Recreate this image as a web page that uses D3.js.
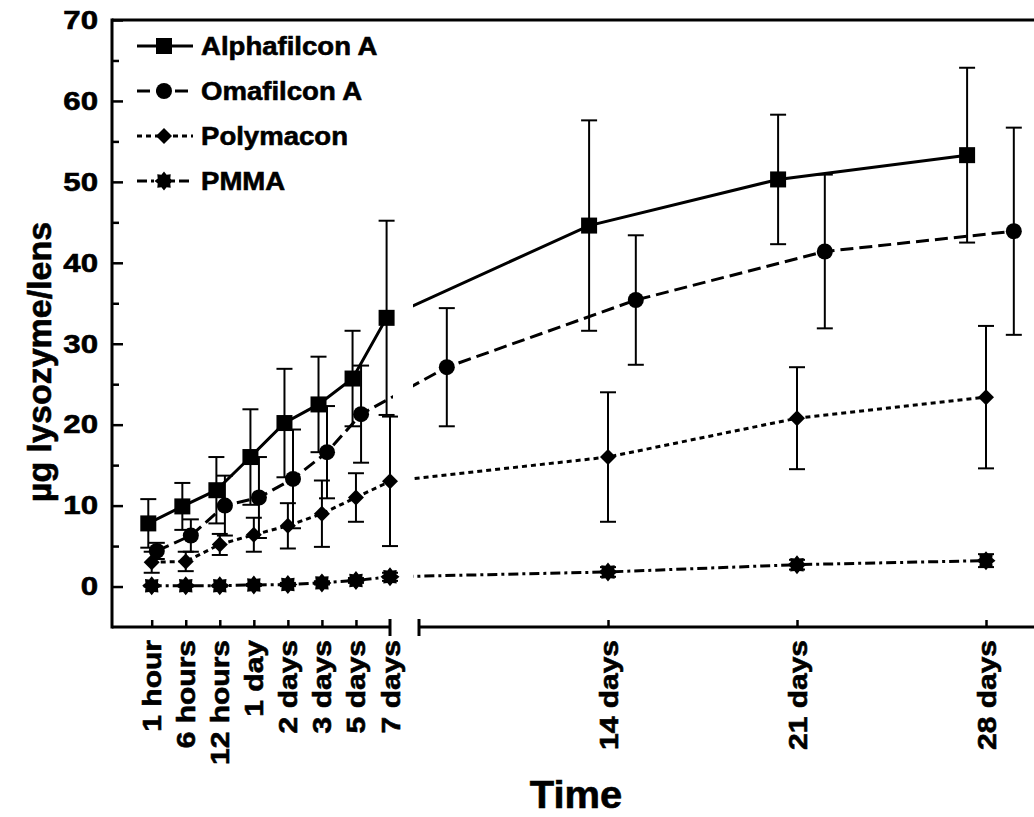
<!DOCTYPE html>
<html>
<head>
<meta charset="utf-8">
<script src="https://cdn.jsdelivr.net/npm/d3@7"></script>
<style>
  body { margin: 0; background: #fff; }
  text { font-family: "Liberation Sans", Arial, sans-serif; font-weight: bold; fill: #000;
         stroke: #000; stroke-width: 0.6px; }
  .axis path.domain { display: none; }
  .axis line { stroke: #000; stroke-width: 2.5; }
</style>
</head>
<body>
<div class="container"></div>
<script>
// categories
var earlyLabels = ['1 hour', '6 hours', '12 hours', '1 day', '2 days', '3 days', '5 days', '7 days'];
var lateDays = [14, 21, 28];
var lateLabels = ['14 days', '21 days', '28 days'];
var seriesNames = ['Alphafilcon A', 'Omafilcon A', 'Polymacon', 'PMMA'];
var yTicks = [0, 10, 20, 30, 40, 50, 60, 70];

// values (µg/lens), 8 early points then 14, 21, 28 days
var alphafilcon   = [7.8, 9.9, 11.9, 16.0, 20.2, 22.5, 25.7, 33.2, 44.6, 50.3, 53.3];
var alphafilconSd = [3.0, 2.9, 4.1, 5.9, 6.7, 5.9, 5.9, 12.0, 13.0, 8.0, 10.8];
var omafilcon     = [4.4, 6.3, 10.0, 11.0, 13.3, 16.6, 21.3, 27.1, 35.4, 41.4, 43.9];
var omafilconSd   = [1.0, 2.0, 3.7, 5.0, 6.1, 5.7, 6.0, 7.3, 8.0, 9.5, 12.8];
var polymacon     = [3.0, 3.1, 5.2, 6.4, 7.5, 9.0, 11.0, 13.0, 16.0, 20.8, 23.4];
var polymaconSd   = [1.3, 1.2, 1.3, 2.1, 2.8, 4.1, 3.0, 8.0, 8.0, 6.3, 8.8];
var pmma          = [0.1, 0.1, 0.1, 0.2, 0.25, 0.45, 0.75, 1.2, 1.8, 2.7, 3.2];
var pmmaSd        = [0.1, 0.1, 0.1, 0.1, 0.2, 0.2, 0.3, 0.5, 0.6, 0.6, 0.8];

var W = 1034, H = 817;
var axisX = 112, topY = 20, baseY = 627;
var leftEnd = 391, rightStart = 419;
var stretch = 1.2;   // the source font runs wider than Liberation Sans

var translate = (x, y) => `translate(${ x },${ y })`;

var xEarly = d3.scaleLinear().domain([0, 7]).range([151.7, 390]);
var xLate = d3.scaleLinear().domain([7, 28]).range([rightStart, 986]);
var y = d3.scaleLinear().domain([-5, 70]).range([baseY, topY]);

// per-series horizontal shift: early (category steps), late (days)
var styles = [
    {values: alphafilcon, sd: alphafilconSd, dash: null, marker: 'square', early: -0.1, late: -0.7},
    {values: omafilcon, sd: omafilconSd, dash: '13,6', marker: 'circle', early: 0.15, late: 1.03},
    {values: polymacon, sd: polymaconSd, dash: '5,4', marker: 'diamond', early: 0, late: 0},
    {values: pmma, sd: pmmaSd, dash: '10,4,3,4', marker: 'star', early: 0, late: 0}
];

var xOf = (s, i) => {
    if (i < earlyLabels.length) {
        var px = xEarly(i + s.early);
        if (px <= leftEnd + 1) return px;
        return xLate(7 + s.late);   // falls into the break: shown on the next segment
    }
    return xLate(lateDays[i - earlyLabels.length] + s.late);
};

var starPath = (() => {
    var pts = [], n = 8, ro = 9.5, ri = 6.8;
    for (var k = 0; k < n * 2; k++) {
        var r = k % 2 ? ri : ro, a = Math.PI * k / n;
        pts.push([r * Math.sin(a), -r * Math.cos(a)]);
    }
    return 'M' + pts.join('L') + 'Z';
})();

var drawMarker = (g, type, cx, cy) => {
    if (type === 'square') {
        g.append('rect').attr('x', cx - 8).attr('y', cy - 8).attr('width', 16).attr('height', 16);
    } else if (type === 'circle') {
        g.append('circle').attr('cx', cx).attr('cy', cy).attr('r', 8);
    } else if (type === 'diamond') {
        g.append('path').attr('d', `M${cx},${cy - 8}L${cx + 8},${cy}L${cx},${cy + 8}L${cx - 8},${cy}Z`);
    } else {
        g.append('path').attr('transform', translate(cx, cy)).attr('d', starPath);
    }
};

var svg = d3.select('.container').append('svg')
    .attr('width', W)
    .attr('height', H);

svg.append('defs').append('clipPath').attr('id', 'plotClip')
    .selectAll('rect')
    .data([[axisX, leftEnd + 2], [rightStart - 6, W]])
    .enter().append('rect')
    .attr('x', d => d[0]).attr('y', 0)
    .attr('width', d => d[1] - d[0]).attr('height', H);

// frame lines
svg.append('line').attr('x1', axisX).attr('x2', axisX).attr('y1', topY - 1.5).attr('y2', baseY + 1.5)
    .attr('stroke', '#000').attr('stroke-width', 3);
svg.append('line').attr('x1', axisX).attr('x2', W).attr('y1', topY).attr('y2', topY)
    .attr('stroke', '#000').attr('stroke-width', 3);
svg.append('line').attr('x1', axisX).attr('x2', leftEnd).attr('y1', baseY).attr('y2', baseY)
    .attr('stroke', '#000').attr('stroke-width', 3);
svg.append('line').attr('x1', rightStart).attr('x2', W).attr('y1', baseY).attr('y2', baseY)
    .attr('stroke', '#000').attr('stroke-width', 3);
[leftEnd - 1, rightStart].forEach(bx => {
    svg.append('line').attr('x1', bx).attr('x2', bx).attr('y1', baseY - 8).attr('y2', baseY + 9)
        .attr('stroke', '#000').attr('stroke-width', 3);
});

// y axis
var yAxis = svg.append('g').classed('axis', true)
    .attr('transform', translate(axisX, 0))
    .call(d3.axisLeft(y).tickValues(yTicks).tickSize(-11).tickPadding(14).tickSizeOuter(0));
yAxis.selectAll('text')
    .attr('x', -14 / stretch)
    .attr('transform', `scale(${ stretch },1)`)
    .style('font-size', '26px');
svg.append('g').classed('axis', true)
    .attr('transform', translate(axisX, 0))
    .call(d3.axisLeft(y).tickValues(d3.range(5, 70, 10)).tickSize(-7).tickFormat('').tickSizeOuter(0));

// x axes
var styleXLabels = g => g.selectAll('text')
    .attr('transform', `rotate(-90) scale(${ stretch },1)`)
    .attr('text-anchor', 'end')
    .attr('x', -13 / stretch).attr('y', 0).attr('dy', '0.36em')
    .style('font-size', '25px');

svg.append('g').classed('axis', true)
    .attr('transform', translate(0, baseY))
    .call(d3.axisBottom(xEarly).tickValues(d3.range(0, 7)).tickSize(-7).tickSizeOuter(0)
        .tickFormat(i => earlyLabels[i]))
    .call(styleXLabels);
svg.append('g').classed('axis', true)
    .attr('transform', translate(0, baseY))
    .call(d3.axisBottom(xEarly).tickValues([7]).tickSize(0).tickSizeOuter(0)
        .tickFormat(() => earlyLabels[7]))
    .call(styleXLabels);
svg.append('g').classed('axis', true)
    .attr('transform', translate(0, baseY))
    .call(d3.axisBottom(xLate).tickValues(lateDays).tickSize(-7).tickSizeOuter(0)
        .tickFormat((d, i) => lateLabels[i]))
    .call(styleXLabels);

// axis titles
svg.append('text')
    .attr('transform', translate(51, 362) + ' rotate(-90)')
    .attr('text-anchor', 'middle')
    .style('font-size', '34px')
    .text('µg lysozyme/lens');
svg.append('text')
    .attr('transform', translate(576, 808) + ' scale(1.05,1)')
    .attr('text-anchor', 'middle')
    .style('font-size', '38px')
    .text('Time');

// series lines
var plot = svg.append('g');
styles.forEach(s => {
    var line = d3.line()
        .x((d, i) => xOf(s, i))
        .y(d => y(d));
    plot.append('path')
        .attr('clip-path', 'url(#plotClip)')
        .attr('d', line(s.values))
        .attr('fill', 'none')
        .attr('stroke', '#000')
        .attr('stroke-width', 3)
        .attr('stroke-dasharray', s.dash);
});

// error bars and markers
styles.forEach(s => {
    var g = plot.append('g');
    s.values.forEach((v, i) => {
        var cx = xOf(s, i), hi = y(v + s.sd[i]), lo = y(v - s.sd[i]);
        g.append('line').attr('x1', cx).attr('x2', cx).attr('y1', hi).attr('y2', lo)
            .attr('stroke', '#000').attr('stroke-width', 2);
        [hi, lo].forEach(yy => g.append('line')
            .attr('x1', cx - 8).attr('x2', cx + 8).attr('y1', yy).attr('y2', yy)
            .attr('stroke', '#000').attr('stroke-width', 2));
    });
    s.values.forEach((v, i) => drawMarker(g, s.marker, xOf(s, i), y(v)));
});

// legend
var legend = svg.append('g');
styles.forEach((s, k) => {
    var ly = 46 + k * 45;
    legend.append('line')
        .attr('x1', 137).attr('x2', 193).attr('y1', ly).attr('y2', ly)
        .attr('stroke', '#000').attr('stroke-width', 3)
        .attr('stroke-dasharray', s.dash);
    drawMarker(legend, s.marker, 164, ly);
    legend.append('text')
        .attr('transform', translate(201, ly) + ' scale(1.06,1)')
        .attr('dy', '0.36em')
        .style('font-size', '26px')
        .text(seriesNames[k]);
});
</script>
</body>
</html>
